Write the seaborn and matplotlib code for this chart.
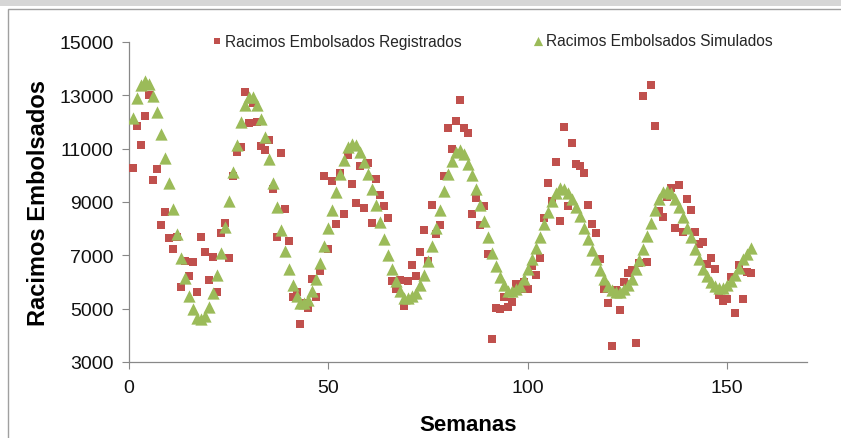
import numpy as np
import pandas as pd
import matplotlib
matplotlib.use("Agg")
import matplotlib.pyplot as plt
from matplotlib.patches import Rectangle
import seaborn as sns

# Weekly bagged bunches: recorded vs simulated (weeks 1..156)
semanas = list(range(1, 157))

registrados = [
    10280, 11860, 11120, 12230, 13010, 9830, 10220, 8130, 8610, 7650,
    7230, 7700, 5800, 6780, 6240, 6750, 5610, 7700, 7140, 6070,
    6940, 5610, 7830, 8210, 6890, 9990, 10870, 11060, 13110, 11970,
    12700, 12010, 11090, 10940, 11340, 9470, 7670, 10850, 8740, 7540,
    5430, 5630, 4430, 5210, 5020, 6120, 5440, 6430, 9990, 7230,
    9780, 8170, 10100, 8550, 10750, 9680, 8950, 10340, 8770, 10470,
    8200, 9870, 9260, 8860, 8400, 6030, 5720, 6090, 5110, 6030,
    6630, 6220, 7140, 7960, 6780, 8890, 7790, 8140, 9970, 11780,
    11000, 12040, 12820, 11780, 11600, 8550, 9140, 8130, 8860, 7040,
    3860, 5020, 5000, 5430, 5050, 5250, 5940, 5750, 5990, 5740,
    6600, 6280, 6890, 8400, 9710, 9030, 10500, 8290, 11820, 8840,
    11210, 10410, 10350, 10080, 8900, 8160, 7830, 6850, 5740, 5210,
    3600, 5700, 4960, 5990, 6350, 6450, 3730, 6700, 12990, 6760,
    13370, 11840, 8670, 8420, 9180, 9530, 8040, 9620, 7860, 9110,
    8710, 7880, 7410, 7500, 6660, 6900, 6500, 5530, 5270, 5360,
    6200, 4840, 6620, 5360, 6370, 6350,
]

simulados = [
    12160, 12910, 13400, 13550, 13420, 12960, 12360, 11540, 10660, 9720,
    8740, 7790, 6910, 6140, 5480, 4990, 4660, 4600, 4720, 5060,
    5600, 6280, 7100, 8050, 9050, 10110, 11120, 12000, 12630, 12950,
    12920, 12630, 12130, 11440, 10620, 9720, 8800, 7960, 7160, 6470,
    5870, 5460, 5210, 5200, 5340, 5650, 6120, 6700, 7350, 8010,
    8700, 9390, 10060, 10560, 11060, 11190, 11120, 10870, 10500, 10060,
    9490, 8900, 8260, 7600, 7000, 6470, 6030, 5650, 5400, 5400,
    5460, 5590, 5870, 6280, 6780, 7350, 8040, 8710, 9430, 10060,
    10520, 10870, 10940, 10810, 10430, 10020, 9490, 8890, 8290, 7670,
    7100, 6600, 6200, 5870, 5650, 5650, 5740, 5840, 6120, 6470,
    6850, 7260, 7700, 8170, 8610, 9050, 9340, 9520, 9490, 9340,
    9110, 8800, 8460, 8040, 7630, 7200, 6850, 6450, 6120, 5840,
    5690, 5620, 5620, 5740, 5900, 6120, 6470, 6820, 7250, 7730,
    8230, 8710, 9110, 9370, 9430, 9340, 9110, 8800, 8420, 8040,
    7670, 7250, 6850, 6500, 6220, 6000, 5840, 5780, 5780, 5870,
    6030, 6280, 6530, 6850, 7040, 7290,
]

x_ticks = [0, 50, 100, 150]
y_ticks = [3000, 5000, 7000, 9000, 11000, 13000, 15000]

lbl_reg = "Racimos Embolsados Registrados"
lbl_sim = "Racimos Embolsados Simulados"

df_reg = pd.DataFrame({"Semanas": semanas, "Racimos": registrados})
df_sim = pd.DataFrame({"Semanas": semanas, "Racimos": simulados})

sns.set_theme(style="white")
plt.rcParams["font.family"] = ["Liberation Sans", "DejaVu Sans"]

W, H = 841, 439
fig = plt.figure(figsize=(W / 100, H / 100), dpi=100)
fig.patch.set_facecolor("white")

# chart area frame and the strip above it
strip = Rectangle((0, 1 - 7 / H), 1, 7 / H, transform=fig.transFigure,
                  facecolor="#d6d6d6", edgecolor="none", zorder=-10)
frame = Rectangle((8 / W, -0.05), 1.2, 1 - 10 / H + 0.05,
                  transform=fig.transFigure, facecolor="white",
                  edgecolor="#a0a0a0", linewidth=1.0, zorder=-9)
fig.patches.extend([strip, frame])

left, right, top, bottom = 129, 807, 43, 363
ax = fig.add_axes([left / W, 1 - bottom / H, (right - left) / W, (bottom - top) / H])
ax.set_zorder(5)
ax.set_facecolor("none")

red = "#C0504D"
green = "#9BBB59"

sns.scatterplot(data=df_reg, x="Semanas", y="Racimos", ax=ax, marker="s",
                color=red, s=34, linewidth=0, label=lbl_reg, zorder=3)
sns.scatterplot(data=df_sim, x="Semanas", y="Racimos", ax=ax, marker="^",
                color=green, s=78, linewidth=0, label=lbl_sim, zorder=4)

ax.set_xlim(0, 170)
ax.set_ylim(3000, 15000)
ax.set_xticks(x_ticks)
ax.set_yticks(y_ticks)
ax.tick_params(axis="both", which="major", direction="out", length=5, width=0.8,
               color="#888888", labelsize=14, labelcolor="#111111", pad=6,
               left=True, bottom=True)
ax.tick_params(axis="x", pad=7)

for side in ["top", "right"]:
    ax.spines[side].set_visible(False)
for side in ["left", "bottom"]:
    ax.spines[side].set_color("#888888")
    ax.spines[side].set_linewidth(0.9)

ax.set_xlabel("Semanas", fontsize=16, fontweight="bold", color="#000000", labelpad=13)
ax.set_ylabel("Racimos Embolsados", fontsize=17, fontweight="bold", color="#000000",
              labelpad=7)

leg = ax.legend(loc="center", bbox_to_anchor=(491 / W, 1 - 42 / H),
                bbox_transform=fig.transFigure, ncol=2, frameon=False,
                prop={"size": 11.2}, handletextpad=0.0, columnspacing=4.4,
                handlelength=1.0, markerscale=0.75, borderaxespad=0)

fig.savefig("out.png", dpi=100)
